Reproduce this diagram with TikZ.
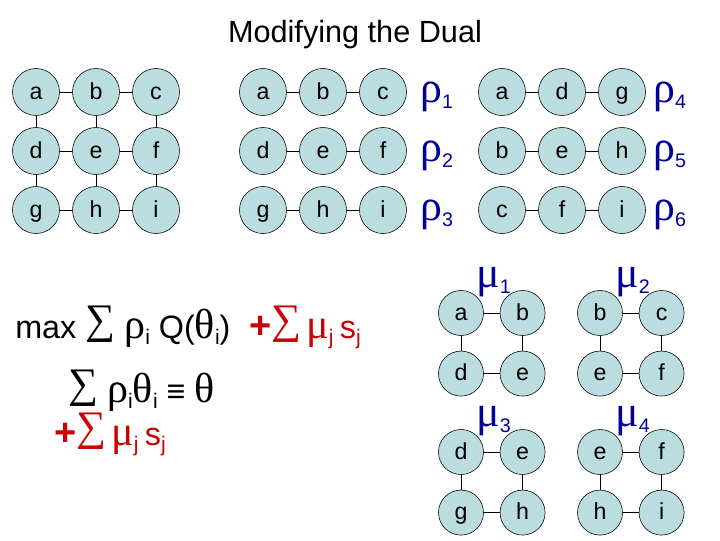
\documentclass[tikz,border=0pt]{standalone}
\usepackage{fontspec}
\setmainfont{Liberation Sans}
\newfontfamily\greekfont[Scale=1.3]{Liberation Serif}
\usetikzlibrary{positioning}
\definecolor{nodefill}{RGB}{187,221,224}
\definecolor{rhoblue}{RGB}{0,0,153}
\definecolor{sumred}{RGB}{204,0,0}
\newcommand{\gr}[1]{{\greekfont #1}}
\newcommand{\dn}[2][14]{\raisebox{-4.5pt}{\fontsize{#1}{#1}\selectfont #2}}
\newcommand{\bigsum}{\raisebox{3.5pt}{\greekfont\fontsize{23}{23}\selectfont ∑}}
\newcommand{\bigplus}{{\fontsize{27}{27}\selectfont\bfseries +}}

\begin{document}
\begin{tikzpicture}[x=0.025cm, y=-0.025cm,
  var/.style={circle, draw, thin, fill=nodefill, minimum size=1.175cm, inner sep=0pt,
    text height=11.5pt, text depth=1pt, font=\fontsize{16.5}{18}\selectfont},
  smallvar/.style={var, minimum size=1.125cm},
  rholab/.style={anchor=base west, inner sep=0pt, text=rhoblue, font=\fontsize{24}{26}\selectfont},
  formula/.style={anchor=base west, inner sep=0pt, font=\fontsize{23}{28}\selectfont},
  dualterm/.style={formula, text=sumred, font=\fontsize{23}{28}\selectfont}]
\useasboundingbox (0,0) rectangle (720,540);
% title
\node[anchor=base, font=\fontsize{21.8}{26}\selectfont] (title) at (355,42) {Modifying the Dual};
% full 3x3 grid
\foreach \n [count=\k from 0] in {a,b,c,d,e,f,g,h,i}{
  \pgfmathsetmacro\px{36+60*mod(\k,3)}
  \pgfmathsetmacro\py{92+59*floor(\k/3)}
  \node[var] (g\n) at (\px,\py) {\n};
}
\foreach \u/\v in {a/b,b/c,d/e,e/f,g/h,h/i,a/d,d/g,b/e,e/h,c/f,f/i} \draw (g\u) -- (g\v);
% row chains, one per rho
\foreach \n [count=\k from 0] in {a,b,c,d,e,f,g,h,i}{
  \pgfmathsetmacro\px{263+60*mod(\k,3)}
  \pgfmathsetmacro\py{92+59*floor(\k/3)}
  \node[var] (r\n) at (\px,\py) {\n};
}
\foreach \u/\v in {a/b,b/c,d/e,e/f,g/h,h/i} \draw (r\u) -- (r\v);
% column chains
\foreach \n [count=\k from 0] in {a,d,g,b,e,h,c,f,i}{
  \pgfmathsetmacro\px{502+60*mod(\k,3)}
  \pgfmathsetmacro\py{92+59*floor(\k/3)}
  \node[var] (c\n) at (\px,\py) {\n};
}
\foreach \u/\v in {a/d,d/g,b/e,e/h,c/f,f/i} \draw (c\u) -- (c\v);
% rho labels
\foreach \j/\x/\y in {1/420/102,2/420/161,3/420/220,4/653/102,5/653/161,6/653/220}
  \node[rholab] (rho\j) at (\x,\y) {\gr{ρ}\dn{\j}};
% 2x2 squares with mu
\foreach \q/\x/\y/\nw/\ne/\sw/\se in {1/461/313/a/b/d/e, 2/600/313/b/c/e/f, 3/461/452/d/e/g/h, 4/600/452/e/f/h/i}{
  \node[smallvar] (q\q-nw) at (\x,\y) {\nw};
  \node[smallvar, right=0.4cm of q\q-nw] (q\q-ne) {\ne};
  \node[smallvar, below=0.375cm of q\q-nw] (q\q-sw) {\sw};
  \node[smallvar, below=0.375cm of q\q-ne] (q\q-se) {\se};
  \draw (q\q-nw) -- (q\q-ne);
  \draw (q\q-nw) -- (q\q-sw);
  \draw (q\q-ne) -- (q\q-se);
  \draw (q\q-sw) -- (q\q-se);
  \node[rholab] (mu\q) at ([shift={(15,-26)}]q\q-nw.center) {\gr{μ}\dn{\q}};
}
% objective and constraint
\node[formula] (obj) at (15,338) {max \bigsum{} \gr{ρ}\dn[15]{i} Q(\gr{θ}\dn[15]{i})};
\node[dualterm] (extra) at (249,338) {\bigplus\bigsum\hspace{0.15em}\gr{μ}\dn[15]{j}\hspace{0.2em}s\dn[15]{j}};
\node[formula] (cons) at (68,402) {\bigsum{} \gr{ρ}\dn[15]{i}\gr{θ}\dn[15]{i} ≡ \gr{θ}};
\node[dualterm] (extra2) at (54,445) {\bigplus\bigsum\hspace{0.15em}\gr{μ}\dn[15]{j}\hspace{0.2em}s\dn[15]{j}};
\end{tikzpicture}
\end{document}
